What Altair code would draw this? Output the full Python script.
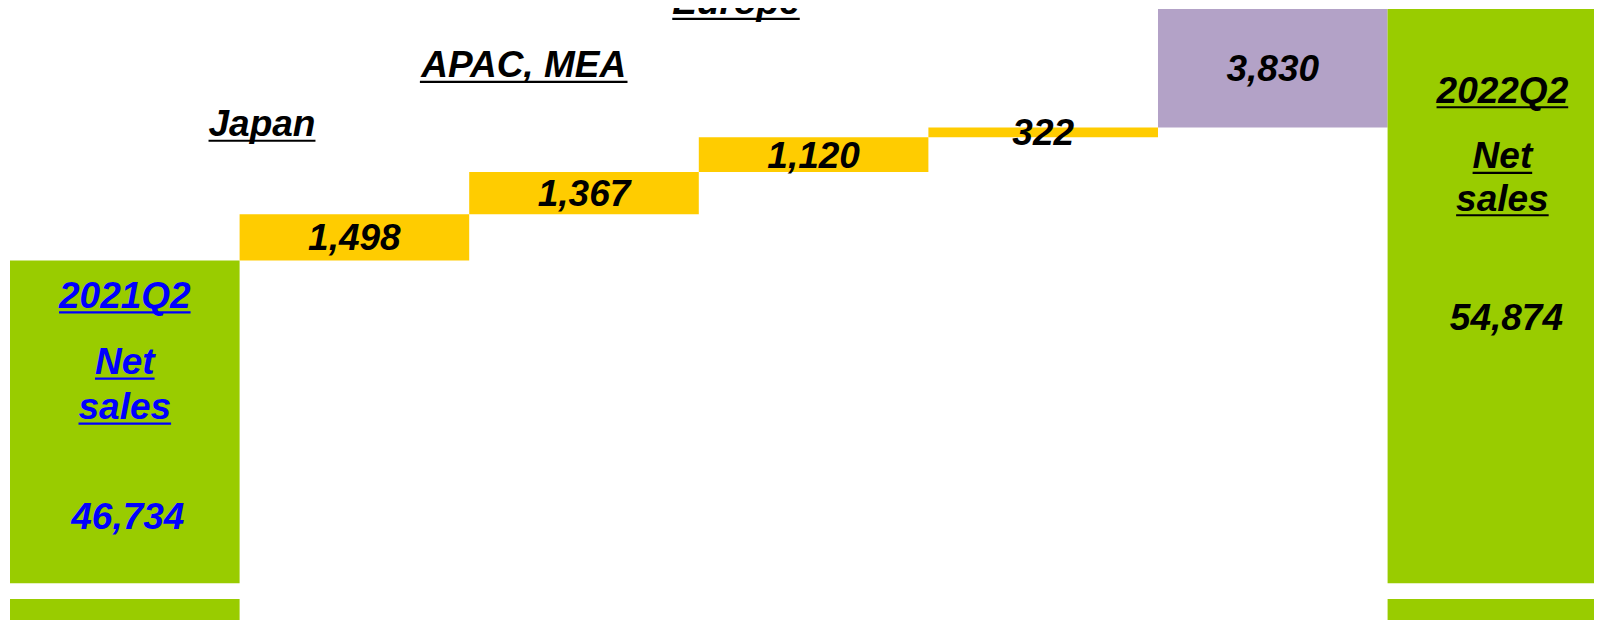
import altair as alt
import pandas as pd

# ---------------- data ----------------
start_label = ["2021Q2", "Net", "sales"]
end_label = ["2022Q2", "Net", "sales"]
start_value = 46734
end_value = 54874
delta_values = [1498, 1367, 1120, 322, 3830]
delta_kind = ["region", "region", "region", "region", "fx"]
region_labels = ["Japan", "APAC, MEA", "Europe"]      # labels of the first three steps (others are off-picture)
axis_break = [35780, 36285]                           # broken value axis

# ---------------- style ----------------
GREEN = "#99CC00"
YELLOW = "#FFCC00"
PURPLE = "#B3A2C7"
BLUE = "#0000FF"
FONT = "Liberation Sans"
FS = 37
PLOT_W = 1584
PLOT_H = 612

xs = alt.Scale(domain=[0, 6.899], nice=False, zero=False)
ys = alt.Scale(domain=[35097, 54905], nice=False, zero=False)

def fmt(v):
    return f"{v:,}"

# Arial-bold advance widths (per 1000 em)
AW = {**{d: 556 for d in "0123456789"}, ",": 278, " ": 278, "Q": 778, "J": 556, "a": 556,
      "p": 611, "n": 611, "A": 722, "P": 667, "C": 722, "M": 833, "E": 667, "N": 722,
      "e": 556, "t": 333, "s": 556, "l": 278, "u": 611, "r": 389, "o": 611}

def tw(s):
    return sum(AW.get(c, 600) for c in s) / 1000 * FS

# ---------------- bars ----------------
rows = [{"x0": 0, "x1": 1, "lo": 0, "hi": start_value, "c": GREEN}]
cum = start_value
for i, (v, k) in enumerate(zip(delta_values, delta_kind)):
    rows.append({"x0": i + 1, "x1": i + 2, "lo": cum, "hi": cum + v,
                 "c": PURPLE if k == "fx" else YELLOW, "lab": fmt(v),
                 "mid": cum + v / 2})
    cum += v
rows.append({"x0": 6, "x1": 7, "lo": 0, "hi": end_value, "c": GREEN})
bars_df = pd.DataFrame(rows)

bars = alt.Chart(bars_df).mark_rect(clip=True).encode(
    x=alt.X("x0:Q", scale=xs, axis=None),
    x2="x1:Q",
    y=alt.Y("lo:Q", scale=ys, axis=None),
    y2="hi:Q",
    color=alt.Color("c:N", scale=None),
)

brk_df = pd.DataFrame({"x0": [0], "x1": [7], "lo": [axis_break[0]], "hi": [axis_break[1]]})
brk = alt.Chart(brk_df).mark_rect(clip=True, color="white").encode(
    x=alt.X("x0:Q", scale=xs, axis=None), x2="x1:Q",
    y=alt.Y("lo:Q", scale=ys, axis=None), y2="hi:Q",
)

steps_df = bars_df.iloc[1:6].copy()
steps_df["cx"] = steps_df["x0"] + 0.5
step_text = alt.Chart(steps_df).mark_text(
    font=FONT, fontSize=FS, fontWeight="bold", fontStyle="italic", color="black",
    baseline="alphabetic", align="center", dy=13,
).encode(
    x=alt.X("cx:Q", scale=xs, axis=None),
    y=alt.Y("mid:Q", scale=ys, axis=None),
    text="lab:N",
)

layers = [bars, brk, step_text]

def add_text(cx, anchor, text, dx, dy, color, underline):
    d = pd.DataFrame({"cx": [cx], "y": [anchor], "t": [text]})
    base = alt.Chart(d)
    layers.append(base.mark_text(
        font=FONT, fontSize=FS, fontWeight="bold", fontStyle="italic", color=color,
        baseline="alphabetic", align="center", dx=dx, dy=dy,
    ).encode(
        x=alt.X("cx:Q", scale=xs, axis=None),
        y=alt.Y("y:Q", scale=ys, axis=None),
        text="t:N",
    ))
    if underline:
        w = tw(text)
        layers.append(base.mark_rule(
            color=color, strokeWidth=2.2,
            xOffset=dx - w / 2, x2Offset=dx + w / 2,
            yOffset=dy + 4.6, y2Offset=dy + 4.6,
        ).encode(
            x=alt.X("cx:Q", scale=xs, axis=None), x2="cx:Q",
            y=alt.Y("y:Q", scale=ys, axis=None), y2="y:Q",
        ))

# region labels above the steps
region_offsets = [(-92.4, -78), (-60.3, -94.6), (-77.6, -123)]
for i, (lab, (dx, dy)) in enumerate(zip(region_labels, region_offsets)):
    top = bars_df.loc[i + 1, "hi"]
    add_text(i + 1.5, top, lab, dx, dy, "black", True)

# start and end bar texts
start_dy = [47.3, 113.6, 158.6]
for lab, dy in zip(start_label, start_dy):
    add_text(0.5, start_value, lab, 0, dy, BLUE, True)
add_text(0.5, start_value, fmt(start_value), 3, 268.9, BLUE, False)

end_dy = [93.7, 159.3, 201.7]
for lab, dy in zip(end_label, end_dy):
    add_text(6.5, end_value, lab, 0, dy, "black", True)
add_text(6.5, end_value, fmt(end_value), 4, 321, "black", False)

chart = alt.layer(*layers).properties(
    width=PLOT_W, height=PLOT_H,
    padding={"left": 2, "top": 0, "right": 0, "bottom": 0},
    autosize=alt.AutoSizeParams(type="none"),
    background="white",
).configure_view(stroke=None)

chart.save("out.html", embed_options={"renderer": "svg", "actions": False})
